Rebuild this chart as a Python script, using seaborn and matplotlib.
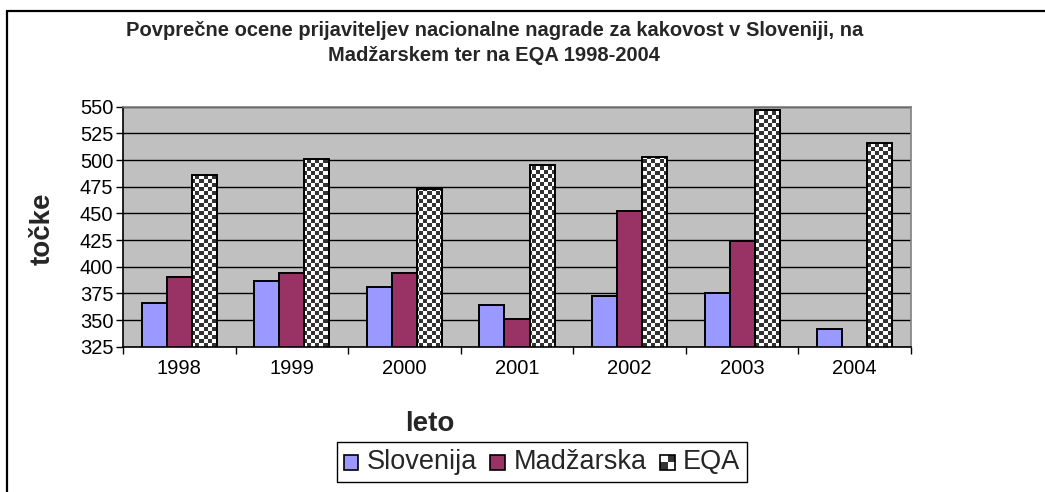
import numpy as np
import pandas as pd
import matplotlib
matplotlib.use("Agg")
import matplotlib.pyplot as plt
import seaborn as sns
from matplotlib.lines import Line2D
from matplotlib.patches import Patch, Rectangle
from matplotlib.colors import ListedColormap

years = ["1998", "1999", "2000", "2001", "2002", "2003", "2004"]
slovenija = [366, 387, 381, 364, 373, 375, 342]
madzarska = [390, 394, 394, 351, 452, 424, np.nan]
eqa = [486, 501, 473, 495, 503, 547, 516]
series_names = ["Slovenija", "Madžarska", "EQA"]
yticks = [325, 350, 375, 400, 425, 450, 475, 500, 525, 550]

title = ("Povprečne ocene prijaviteljev nacionalne nagrade za kakovost v Sloveniji, na\n"
         "Madžarskem ter na EQA 1998-2004")

sns.set_theme(style="white")
plt.rcParams["font.family"] = ["Liberation Sans", "DejaVu Sans"]

rows = []
for name, vals in zip(series_names, [slovenija, madzarska, eqa]):
    for y, v in zip(years, vals):
        if not np.isnan(v):
            rows.append({"leto": y, "serija": name, "tocke": v})
df = pd.DataFrame(rows)

W, H = 1045, 492
fig = plt.figure(figsize=(W / 100, H / 100), dpi=100)
fig.patch.set_facecolor("white")
ax = fig.add_axes([123 / W, 1 - 346.7 / H, (911 - 123) / W, 240 / H])
ax.set_facecolor("#C0C0C0")

palette = {"Slovenija": "#9999FF", "Madžarska": "#993366", "EQA": "white"}
sns.barplot(data=df, x="leto", y="tocke", hue="serija", order=years,
            hue_order=series_names, palette=palette, width=0.667, gap=0,
            edgecolor="black", linewidth=1.4, saturation=1, legend=False,
            errorbar=None, ax=ax, zorder=2)

# checkerboard pattern for EQA bars
cell = 4
ncols = int(round(788 / cell))
nrows = int(round(240 / cell))
checker = (np.indices((nrows, ncols)).sum(axis=0) % 2).astype(float)
cmap = ListedColormap(["white", "#333333"])
for bar in ax.containers[2]:
    bar.set_facecolor("none")
    im = ax.imshow(checker, cmap=cmap, interpolation="nearest", aspect="auto",
                   extent=(0, 1, 0, 1), transform=ax.transAxes, zorder=1.5)
    im.set_clip_path(bar)

ax.set_xlim(-0.5, len(years) - 0.5)
ax.set_ylim(325, 550)
ax.set_yticks(yticks)
ax.set_yticklabels([str(t) for t in yticks], fontsize=14.5)
ax.yaxis.grid(True, color="black", linewidth=1.0)
ax.set_axisbelow(True)
ax.set_xlabel("")
ax.set_ylabel("")
ax.set_xticks(range(len(years)))
ax.set_xticklabels(years, fontsize=14.5)
ax.set_xticks(np.arange(-0.5, len(years), 1.0), minor=True)
ax.tick_params(axis="x", which="major", length=0, pad=9, colors="black")
ax.tick_params(axis="x", which="minor", length=5, width=1, color="black", direction="out", bottom=True)
ax.tick_params(axis="y", length=5, width=1, color="black", direction="out", left=True, pad=2, labelcolor="black")

for s in ["left", "bottom"]:
    ax.spines[s].set_color("black")
    ax.spines[s].set_linewidth(1.2)
for s in ["top", "right"]:
    ax.spines[s].set_color("#808080")
    ax.spines[s].set_linewidth(1.2)

fig.text(0.473, 1 - 43 / H, title, ha="center", va="center", fontsize=14.5,
         fontweight="bold", linespacing=1.45)
fig.text(430 / W, 1 - 424 / H, "leto", ha="center", va="center", fontsize=20, fontweight="bold")
fig.text(43 / W, 1 - 229 / H, "točke", ha="center", va="center", fontsize=20,
         fontweight="bold", rotation=90)

# legend with custom square / checker handles
class CheckerHandler:
    def legend_artist(self, legend, orig_handle, fontsize, handlebox):
        x0, y0 = handlebox.xdescent, handlebox.ydescent
        w, h = handlebox.width, handlebox.height
        s = min(w, h)
        x0 = x0 + (w - s) / 2
        y0 = y0 + (h - s) / 2
        tr = handlebox.get_transform()
        handlebox.add_artist(Rectangle((x0, y0), s, s, facecolor="white", edgecolor="none", transform=tr))
        for (i, j) in [(0, 0), (1, 1)]:
            handlebox.add_artist(Rectangle((x0 + i * s / 2, y0 + j * s / 2), s / 2, s / 2,
                                           facecolor="#333333", edgecolor="none", transform=tr))
        frame = Rectangle((x0, y0), s, s, facecolor="none", edgecolor="black", lw=1.2, transform=tr)
        handlebox.add_artist(frame)
        return frame

class SquareHandler:
    def legend_artist(self, legend, orig_handle, fontsize, handlebox):
        x0, y0 = handlebox.xdescent, handlebox.ydescent
        w, h = handlebox.width, handlebox.height
        s = min(w, h)
        r = Rectangle((x0 + (w - s) / 2, y0 + (h - s) / 2), s, s,
                      facecolor=orig_handle.get_facecolor(), edgecolor="black", lw=1.2,
                      transform=handlebox.get_transform())
        handlebox.add_artist(r)
        return r

h1 = Patch(facecolor=palette["Slovenija"])
h2 = Patch(facecolor=palette["Madžarska"])
h3 = Patch(facecolor="white")
leg = fig.legend([h1, h2, h3], series_names, loc="center",
                 bbox_to_anchor=(542 / W, 1 - 462 / H), ncol=3, fontsize=19.5,
                 frameon=True, fancybox=False, edgecolor="black", framealpha=1,
                 handlelength=0.55, handleheight=0.55, handletextpad=0.3,
                 columnspacing=0.5, borderpad=0.25, borderaxespad=0,
                 handler_map={h1: SquareHandler(), h2: SquareHandler(), h3: CheckerHandler()})
leg.get_frame().set_linewidth(1.0)

# outer chart border (left and top)
fig.add_artist(Line2D([7 / W, 7 / W], [0, 1 - 11 / H], color="black", lw=1.6,
                      transform=fig.transFigure))
fig.add_artist(Line2D([7 / W, 1], [1 - 11 / H, 1 - 11 / H], color="black", lw=1.6,
                      transform=fig.transFigure))

fig.savefig("out.png", dpi=100)
